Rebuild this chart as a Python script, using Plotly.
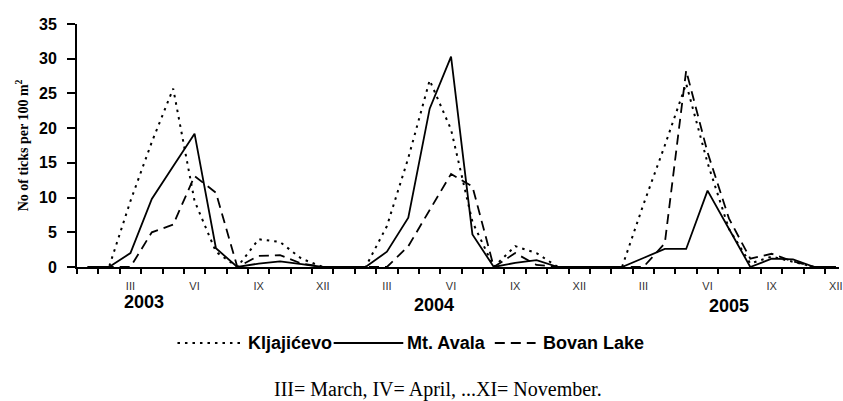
import plotly.graph_objects as go

# Months Jan 2003 .. Dec 2005 (index 0..35)
months = list(range(36))
roman = ["I", "II", "III", "IV", "V", "VI", "VII", "VIII", "IX", "X", "XI", "XII"]
label_months = [2, 5, 8, 11]  # III, VI, IX, XII
years = ["2003", "2004", "2005"]

kljajicevo = [0, 0, 9.5, 18.0, 25.7, 9.5, 2.2, 0, 4.0, 3.6, 1.2, 0,
              0, 0, 5.9, 15.7, 26.9, 19.8, 6.5, 0, 3.0, 2.0, 0, 0,
              0, 0, 9.0, 17.5, 26.4, 15.0, 5.5, 0.5, 1.5, 0.7, 0, 0]
mt_avala = [0, 0, 2.0, 9.8, 14.5, 19.2, 2.7, 0, 0.5, 0.8, 0.4, 0,
            0, 0, 2.2, 7.1, 22.8, 30.3, 4.7, 0, 0.6, 1.0, 0, 0,
            0, 0, 1.3, 2.6, 2.6, 11.0, 5.5, 0, 1.2, 1.1, 0, 0]
bovan_lake = [0, 0, 0, 5.0, 6.1, 13.1, 10.7, 0, 1.6, 1.7, 0.5, 0,
              0, 0, 0, 3.0, 8.3, 13.4, 11.6, 0, 2.0, 0.3, 0, 0,
              0, 0, 0, 3.4, 28.3, 16.5, 7.0, 1.2, 1.9, 0.8, 0, 0]

series_names = ["Kljajićevo", "Mt. Avala", "Bovan Lake"]
y_ticks = [0, 5, 10, 15, 20, 25, 30, 35]

W, H = 843, 401
L, R, T, B = 77, 0, 24, 134
PW, PH = W - L - R, H - T - B


def xp(px):
    return (px - L) / PW


def yp(py):
    return (H - B - py) / PH


DOT = "2.5px,5px"
DASH = "10px,6px"
styles = [dict(color="black", width=2, dash=DOT),
          dict(color="black", width=1.8, dash="solid"),
          dict(color="black", width=1.8, dash=DASH)]

fig = go.Figure()
for name, vals, st in zip(series_names, [kljajicevo, mt_avala, bovan_lake], styles):
    fig.add_trace(go.Scatter(x=months, y=vals, mode="lines", name=name,
                             line=st, showlegend=False))

tickvals = [y * 12 + m for y in range(3) for m in label_months]
ticktext = [roman[m] for y in range(3) for m in label_months]

fig.update_layout(
    width=W, height=H,
    margin=dict(l=L, r=R, t=T, b=B, pad=0),
    paper_bgcolor="white", plot_bgcolor="white",
    xaxis=dict(
        range=[-0.5, 35.15], showgrid=False, zeroline=False,
        showline=True, linecolor="black", linewidth=2,
        tickmode="array", tickvals=tickvals, ticktext=ticktext,
        ticks="outside", ticklen=8, tickcolor="rgba(0,0,0,0)",
        ticklabeloverflow="allow",
        tickfont=dict(family="Liberation Sans", size=11, color="#333"),
        minor=dict(tickmode="array", tickvals=[k - 0.5 for k in range(37)],
                   ticks="outside", ticklen=5, tickwidth=1.5, tickcolor="black",
                   showgrid=False),
    ),
    yaxis=dict(
        range=[0, 35], showgrid=False, zeroline=False,
        showline=True, linecolor="black", linewidth=2,
        tickmode="array", tickvals=y_ticks,
        ticks="outside", ticklen=8, tickwidth=1.5, tickcolor="black",
        ticklabelstandoff=7,
        tickfont=dict(family="Liberation Sans", size=16, color="black", weight="bold"),
    ),
)

annotations = []
# y-axis title
annotations.append(dict(text="<b>No of ticks per 100 m<sup>2</sup></b>", textangle=-90,
                        xref="paper", yref="paper", x=xp(22), y=yp(145),
                        xanchor="center", yanchor="middle", showarrow=False,
                        font=dict(family="Liberation Serif", size=14, color="black")))
# year labels
for yr, (cx, cy) in zip(years, [(144, 302), (436, 305), (732, 306)]):
    annotations.append(dict(text="<b>" + yr + "</b>", xref="paper", yref="paper",
                            x=xp(cx), y=yp(cy), xanchor="center", yanchor="middle",
                            showarrow=False,
                            font=dict(family="Liberation Sans", size=18, color="black")))
# legend texts
for txt, lx in zip(series_names, [247, 407, 543]):
    annotations.append(dict(text="<b>" + txt + "</b>", xref="paper", yref="paper",
                            x=xp(lx), y=yp(343), xanchor="left", yanchor="middle",
                            showarrow=False,
                            font=dict(family="Liberation Sans", size=18, color="black")))
# caption
annotations.append(dict(text="III= March, IV= April, ...XI= November.", xref="paper",
                        yref="paper", x=xp(440), y=yp(389), xanchor="center",
                        yanchor="middle", showarrow=False,
                        font=dict(family="Liberation Serif", size=20, color="black")))
fig.update_layout(annotations=annotations)

# legend line samples
shapes = []
for (x0, x1), st in zip([(178, 243), (335, 405), (497, 538)], styles):
    shapes.append(dict(type="line", xref="paper", yref="paper",
                       x0=xp(x0), x1=xp(x1), y0=yp(343), y1=yp(343),
                       line=dict(color="black", width=st["width"], dash=st["dash"])))
fig.update_layout(shapes=shapes)

fig.write_html("out.html",
               config={"displayModeBar": False},
               post_script="document.body.style.margin='0px';"
                           "document.body.style.padding='0px';"
                           "document.body.style.overflow='hidden';")
